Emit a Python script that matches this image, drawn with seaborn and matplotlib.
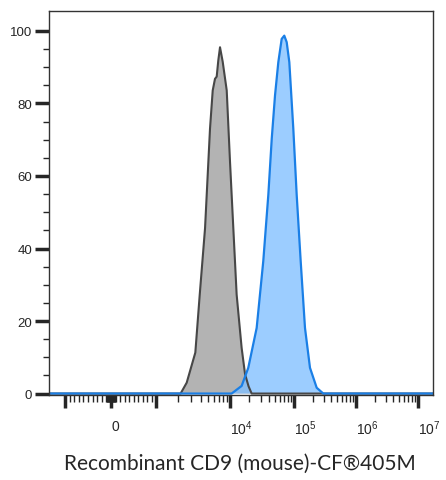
import numpy as np
import pandas as pd
import matplotlib
matplotlib.use("Agg")
import matplotlib.pyplot as plt
import seaborn as sns

# ----------------------
# Histogram data (fluorescence intensity vs. % of max)
# ----------------------
control_intensity = [-1e5, 2150, 2600, 3400, 3900, 4600, 5370, 5840, 6270, 6610, 6950, 7330,
                     7970, 9030, 10000, 11000, 12700, 15200, 17200, 19500, 21800, 1e9]
control_count = [0, 0, 3.0, 11.3, 27.3, 45.6, 73.1, 83.6, 86.8, 87.4, 91.9, 95.5,
                 91.5, 83.6, 64.0, 49.3, 27.3, 12.6, 5.3, 2.0, 0, 0]

stained_intensity = [-1e5, 10600, 15200, 19300, 26100, 33100, 39700, 44900, 50500, 56900,
                     64200, 70500, 76900, 84500, 97500, 110500, 128200, 150400, 181100,
                     232300, 297000, 1e9]
stained_count = [0, 0, 2.1, 7.1, 18.1, 36.5, 54.8, 70.3, 82.2, 91.4,
                 97.8, 98.7, 96.9, 91.4, 73.1, 54.8, 36.5, 18.1, 7.1,
                 1.6, 0, 0]

x_label = "Recombinant CD9 (mouse)-CF\u00ae405M"

# ----------------------
# Biexponential-like axis: linear around zero, log decades above 10^3
# ----------------------
U_ANCHOR = np.array([-6, -1, 0, 1, 2, 3, 4, 5, 10])
P_ANCHOR = np.array([-165, 65, 111, 156, 230, 294, 356, 418, 728], dtype=float)


def to_u(v):
    v = np.asarray(v, dtype=float)
    a = np.maximum(np.abs(v), 1e-9)
    return np.where(a <= 1000, v / 1000, np.sign(v) * (1 + np.log10(a / 1000)))


def from_u(u):
    u = np.asarray(u, dtype=float)
    a = np.abs(u)
    return np.where(a <= 1, u * 1000, np.sign(u) * 1000 * 10 ** (a - 1))


def forward(v):
    return np.interp(to_u(v), U_ANCHOR, P_ANCHOR)


def inverse(p):
    return from_u(np.interp(p, P_ANCHOR, U_ANCHOR))


control = pd.DataFrame({"Intensity": control_intensity, "Count": control_count})
stained = pd.DataFrame({"Intensity": stained_intensity, "Count": stained_count})

sns.set_style("ticks")
plt.rcParams["font.family"] = ["Liberation Sans", "DejaVu Sans"]
plt.rcParams["mathtext.fontset"] = "custom"
plt.rcParams["mathtext.rm"] = "Liberation Sans"
plt.rcParams["mathtext.it"] = "Liberation Sans"

fig = plt.figure(figsize=(4.46, 4.81), dpi=100)
ax = fig.add_axes([49 / 446, 1 - 396 / 481, 384 / 446, 384 / 481])
ax.set_xscale("function", functions=(forward, inverse))

ax.fill_between(control["Intensity"], control["Count"], color="#b3b3b3", lw=0)
sns.lineplot(data=control, x="Intensity", y="Count", color="#474747", lw=1.5,
             sort=False, ax=ax)
ax.fill_between(stained["Intensity"], stained["Count"], color="#80bfff", alpha=0.78, lw=0)
sns.lineplot(data=stained, x="Intensity", y="Count", color="#1a7fe6", lw=1.6,
             sort=False, ax=ax)

ax.set_xlim(inverse(49), inverse(433))
ax.set_ylim(-0.4, 105.5)

# y ticks
ax.set_yticks([0, 20, 40, 60, 80, 100])
ax.set_yticks(np.arange(0, 105, 5), minor=True)
ax.tick_params(axis="y", which="major", length=10, width=2.5, labelsize=9.5, pad=2)
ax.tick_params(axis="y", which="minor", length=4, width=1)

# x ticks
major_x = [-1000, 0, 1000, 1e4, 1e5, 1e6, 1e7]
major_lbl = ["", "0", "", "$10^4$", "$10^5$", "$10^6$", "$10^7$"]
minor_x = [s * m for s in (-1, 1) for m in list(range(10, 100, 10)) + list(range(100, 1000, 100))]
for d in range(3, 7):
    minor_x += [m * 10 ** d for m in range(2, 10)]
ax.set_xticks(major_x)
ax.set_xticklabels(major_lbl)
ax.set_xticks(minor_x, minor=True)
ax.tick_params(axis="x", which="major", length=9, width=2.5, labelsize=10, pad=8)
ax.tick_params(axis="x", which="minor", length=5, width=1)
for lbl in ax.get_xticklabels():
    lbl.set_horizontalalignment("left")

for s in ax.spines.values():
    s.set_linewidth(1.0)
    s.set_color("#333333")

ax.set_ylabel("")
ax.set_xlabel("")
fig.text(0.537, 1 - 464 / 481, x_label, ha="center", va="center",
         fontsize=15, family=["Lato", "DejaVu Sans"])

fig.savefig("out.png", dpi=100)
